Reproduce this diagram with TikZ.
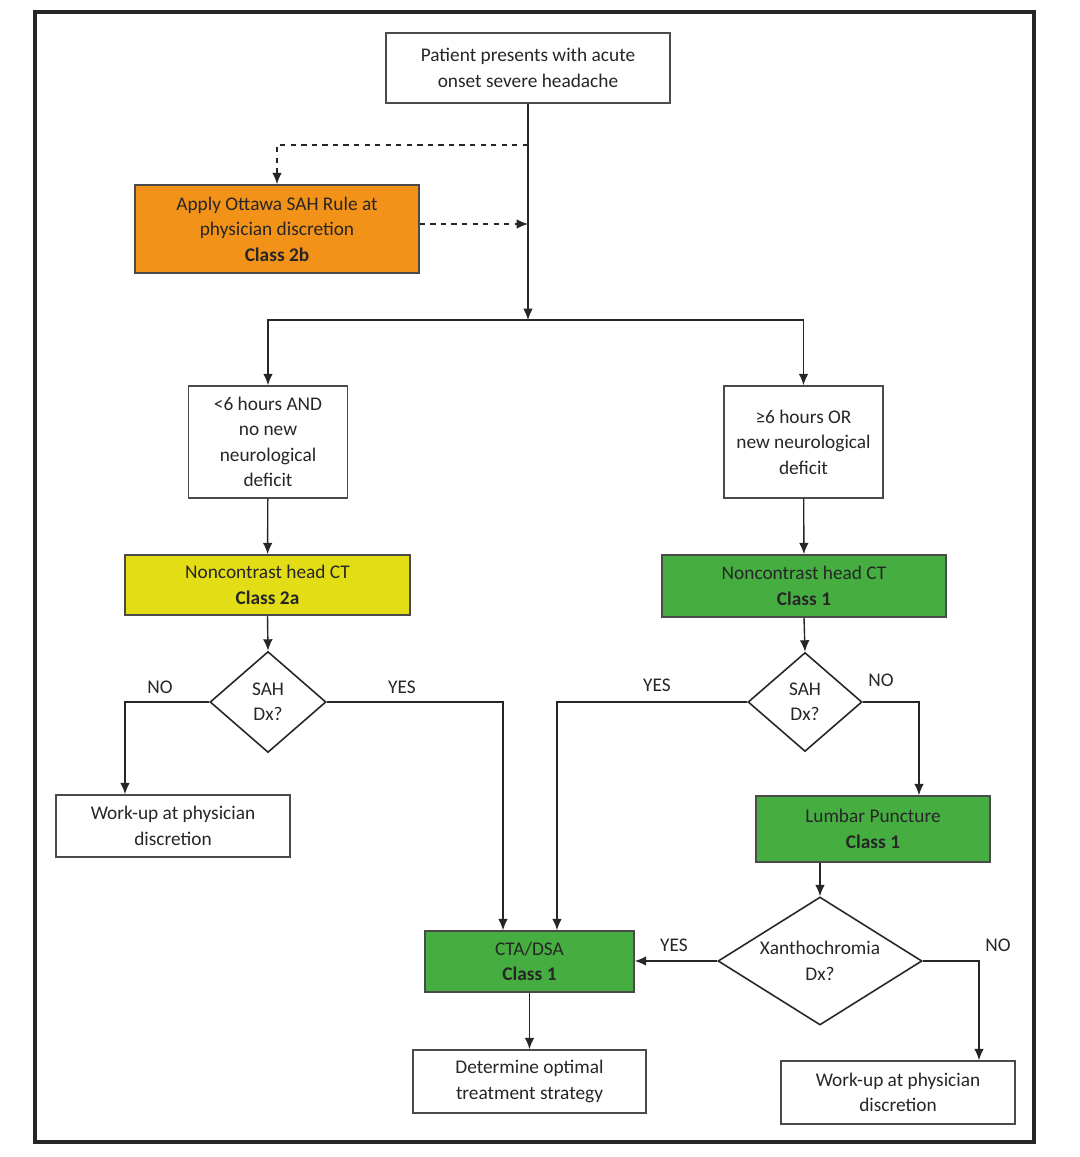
\documentclass[tikz,border=0pt]{standalone}
\usepackage{fontspec}
\setmainfont{Carlito}
\usetikzlibrary{arrows.meta,shapes.geometric}

\definecolor{boxline}{HTML}{4A4A4A}
\definecolor{txt}{HTML}{262626}
\definecolor{orangebox}{HTML}{F39219}
\definecolor{yellowbox}{HTML}{E3DD16}
\definecolor{greenbox}{HTML}{46AE41}

\tikzset{
	box/.style={draw=boxline, line width=0.9pt, align=center, text=txt, inner sep=2pt,
		font=\fontsize{11}{14.5}\selectfont},
	decide/.style={draw=black!85, line width=0.9pt, diamond, inner sep=0pt},
	arr/.style={-{Latex[length=6.5pt,width=5.5pt]}, line width=0.8pt, draw=black!85},
	dasharr/.style={arr, dashed},
	answer/.style={text=txt, font=\fontsize{11}{12}\selectfont}
}

\begin{document}
\begin{tikzpicture}
	\useasboundingbox (0,0) rectangle (21.6,-23.14);
	\draw [line width=2.2pt, color=black!85] (0.70,-0.24) rectangle (20.68,-22.84);
	
	% boxes
	\node [box, minimum width=5.68cm, minimum height=1.40cm] (start) at (10.56,-1.36)
		{Patient presents with acute\\onset severe headache};
	\node [box, fill=orangebox, minimum width=5.68cm, minimum height=1.76cm] (ottawa) at (5.54,-4.58)
		{Apply Ottawa SAH Rule at\\physician discretion\\\textbf{Class 2b}};
	\node [box, minimum width=3.18cm, minimum height=2.24cm] (early) at (5.36,-8.84)
		{<6 hours AND\\no new\\neurological\\deficit};
	\node [box, minimum width=3.18cm, minimum height=2.24cm] (late) at (16.07,-8.84)
		{≥6 hours OR\\new neurological\\deficit};
	\node [box, fill=yellowbox, minimum width=5.70cm, minimum height=1.20cm] (ctL) at (5.35,-11.70)
		{Noncontrast head CT\\\textbf{Class 2a}};
	\node [box, fill=greenbox, minimum width=5.68cm, minimum height=1.24cm] (ctR) at (16.08,-11.72)
		{Noncontrast head CT\\\textbf{Class 1}};
	\node [decide, minimum width=2.32cm, minimum height=2.02cm,
		label={[box, draw=none]center:SAH\\Dx?}] (diaL) at (5.36,-14.04) {};
	\node [decide, minimum width=2.28cm, minimum height=1.98cm,
		label={[box, draw=none]center:SAH\\Dx?}] (diaR) at (16.10,-14.04) {};
	\node [box, minimum width=4.68cm, minimum height=1.24cm] (workL) at (3.46,-16.52)
		{Work-up at physician\\discretion};
	\node [box, fill=greenbox, minimum width=4.68cm, minimum height=1.32cm] (lp) at (17.46,-16.58)
		{Lumbar Puncture\\\textbf{Class 1}};
	\node [decide, minimum width=4.08cm, minimum height=2.56cm,
		label={[box, draw=none]center:Xanthochromia\\Dx?}] (xan) at (16.40,-19.22) {};
	\node [box, fill=greenbox, minimum width=4.18cm, minimum height=1.22cm] (cta) at (10.59,-19.23)
		{CTA/DSA\\\textbf{Class 1}};
	\node [box, minimum width=4.66cm, minimum height=1.26cm] (treat) at (10.59,-21.63)
		{Determine optimal\\treatment strategy};
	\node [box, minimum width=4.68cm, minimum height=1.26cm] (workR) at (17.96,-21.85)
		{Work-up at physician\\discretion};
	
	% junctions
	\coordinate (dashsplit) at (10.56,-2.90);
	\coordinate (dashjoin) at (10.56,-4.48);
	\coordinate (split) at (10.56,-6.40);
	
	% connectors
	\draw [arr] (start.south) -- (split);
	\draw [dasharr] (dashsplit) -| (ottawa.north);
	\draw [dasharr] (ottawa.east |- dashjoin) -- (dashjoin);
	\draw [arr] (split) -| (early.north);
	\draw [arr] (split) -| (late.north);
	\draw [arr] (early) -- (ctL);
	\draw [arr] (late) -- (ctR);
	\draw [arr] (ctL.south) -- (diaL.north);
	\draw [arr] (ctR.south) -- (diaR.north);
	\draw [arr] (diaL.west) -| ([xshift=-0.96cm]workL.north);
	\draw [arr] (diaL.east) -| ([xshift=-0.53cm]cta.north);
	\draw [arr] (diaR.west) -| ([xshift=0.55cm]cta.north);
	\draw [arr] (diaR.east) -| ([xshift=0.92cm]lp.north);
	\draw [arr] (xan.north |- lp.south) -- (xan.north);
	\draw [arr] (xan.west) -- (xan.west -| cta.east);
	\draw [arr] (xan.east) -| ([xshift=1.62cm]workR.north);
	\draw [arr] (cta) -- (treat);
	
	% answers
	\node [answer] (noL) at (3.20,-13.74) {NO};
	\node [answer] (yesL) at (8.04,-13.74) {YES};
	\node [answer] (yesR) at (13.14,-13.70) {YES};
	\node [answer] (noR) at (17.62,-13.60) {NO};
	\node [answer] (yesX) at (13.48,-18.90) {YES};
	\node [answer] (noX) at (19.96,-18.90) {NO};
\end{tikzpicture}
\end{document}
